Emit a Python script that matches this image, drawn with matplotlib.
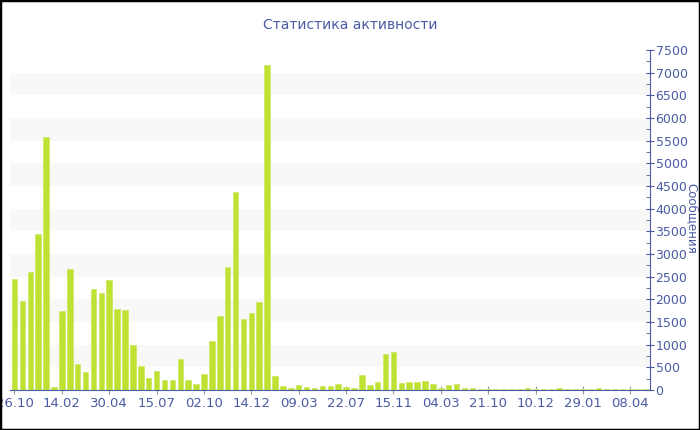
import numpy as np
import matplotlib
matplotlib.use("Agg")
import matplotlib.pyplot as plt
from matplotlib.patches import Rectangle

# Messages per period
messages = [
    2455, 1963, 2602, 3440, 5584, 68, 1743, 2660, 575, 405,
    2234, 2131, 2418, 1794, 1765, 985, 531, 273, 413, 229,
    229, 685, 229, 134, 354, 1074, 1625, 2720, 4375, 1573,
    1698, 1941, 7164, 302, 90, 46, 112, 75, 53, 90,
    90, 141, 60, 37, 324, 100, 178, 802, 846, 156,
    178, 178, 207, 141, 53, 112, 141, 53, 53, 31,
    31, 20, 25, 20, 25, 35, 30, 20, 25, 35,
    25, 20, 25, 30, 35, 25, 20, 20, 25, 20,
    25,
]
tick_labels = ["26.10", "14.02", "30.04", "15.07", "02.10", "14.12", "09.03",
               "22.07", "15.11", "04.03", "21.10", "10.12", "29.01", "08.04"]
tick_step = 6

title = "Статистика активности"
ylabel = "Сообщения"

text_color = "#4a5ba5"
bar_color = "#bde231"

fig = plt.figure(figsize=(7, 4.3), dpi=100)
ax = fig.add_axes([10 / 700, 40 / 430, 640 / 700, 340 / 430])

x = np.arange(len(messages))

# light alternating bands
for lo in range(500, 7500, 1000):
    ax.axhspan(lo, lo + 500, color="#f8f8f8", zorder=0, lw=0)

ax.bar(x, messages, width=0.7, color=bar_color, edgecolor="#cfe86a",
       linewidth=0.6, zorder=2)

ax.set_xlim(-0.57, 80.5)
ax.set_ylim(0, 7500)

ax.set_xticks(x[::tick_step][:len(tick_labels)])
ax.set_xticklabels(tick_labels)
ax.set_yticks(np.arange(0, 7501, 500))
ax.set_yticks(np.arange(0, 7501, 250), minor=True)

ax.yaxis.tick_right()
ax.tick_params(axis="y", which="major", direction="inout", length=6,
               color=text_color, labelcolor=text_color, labelsize=9, pad=1)
ax.tick_params(axis="y", which="minor", direction="in", length=3,
               color=text_color)
ax.tick_params(axis="x", direction="inout", length=6, color="#999999",
               labelcolor=text_color, labelsize=9.5, pad=2)

for side in ["top", "left"]:
    ax.spines[side].set_visible(False)
ax.spines["bottom"].set_color(text_color)
ax.spines["right"].set_color(text_color)
ax.spines["bottom"].set_zorder(3)

# axis title squeezed at the far right edge
fig.text(685 / 700, 1 - 218 / 430, ylabel, rotation=270, ha="left",
         va="center", color=text_color, fontsize=8.5)

fig.text(0.5, 1 - 25 / 430, title, ha="center", va="center",
         color=text_color, fontsize=10)

# black frame around the whole picture
fig.patches.append(Rectangle((0, 0), 1, 1, transform=fig.transFigure,
                             fill=False, edgecolor="black", linewidth=2.5))

fig.savefig("out.png", dpi=100)
